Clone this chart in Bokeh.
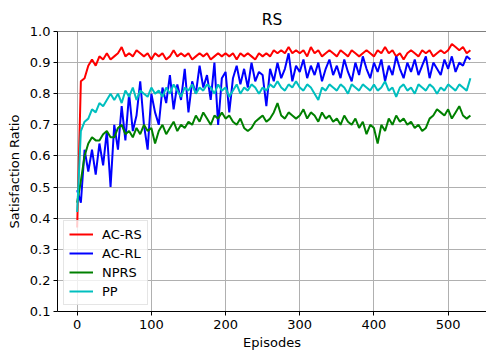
from bokeh.plotting import figure
from bokeh.models import Range1d, FixedTicker, PrintfTickFormatter, Span, Legend, LegendItem
from bokeh.embed import file_html
from bokeh.resources import INLINE

episodes = list(range(0, 531, 5))

ac_rs = [
    0.37, 0.84, 0.85, 0.89, 0.91, 0.89, 0.92, 0.91, 0.93, 0.91,
    0.92, 0.93, 0.95, 0.92, 0.93, 0.92, 0.94, 0.93, 0.92, 0.93,
    0.91, 0.93, 0.92, 0.93, 0.91, 0.92, 0.94, 0.92, 0.93, 0.92,
    0.93, 0.91, 0.92, 0.93, 0.92, 0.93, 0.91, 0.92, 0.93, 0.92,
    0.93, 0.92, 0.93, 0.91, 0.93, 0.92, 0.93, 0.92, 0.91, 0.93,
    0.92, 0.93, 0.92, 0.94, 0.93, 0.94, 0.93, 0.95, 0.93, 0.94,
    0.93, 0.94, 0.92, 0.95, 0.93, 0.94, 0.92, 0.93, 0.94, 0.93,
    0.92, 0.94, 0.93, 0.92, 0.94, 0.93, 0.92, 0.93, 0.94, 0.93,
    0.92, 0.94, 0.93, 0.95, 0.93, 0.94, 0.92, 0.93, 0.91, 0.93,
    0.94, 0.93, 0.92, 0.94, 0.93, 0.94, 0.92, 0.93, 0.94, 0.93,
    0.94, 0.96, 0.95, 0.94, 0.95, 0.93, 0.94,
]

ac_rl = [
    0.49, 0.45, 0.62, 0.55, 0.62, 0.54, 0.64, 0.57, 0.68, 0.50,
    0.70, 0.62, 0.76, 0.65, 0.80, 0.68, 0.73, 0.84, 0.70, 0.62,
    0.80, 0.74, 0.70, 0.82, 0.77, 0.86, 0.75, 0.83, 0.78, 0.88,
    0.74, 0.84, 0.80, 0.89, 0.82, 0.86, 0.78, 0.90, 0.70, 0.85,
    0.87, 0.74, 0.85, 0.89, 0.83, 0.88, 0.82, 0.90, 0.84, 0.87,
    0.86, 0.76, 0.88, 0.84, 0.90, 0.85, 0.88, 0.93, 0.84, 0.89,
    0.87, 0.91, 0.85, 0.89, 0.86, 0.90, 0.84, 0.88, 0.91, 0.86,
    0.89, 0.85, 0.91, 0.87, 0.84, 0.90, 0.86, 0.92, 0.88, 0.85,
    0.90, 0.87, 0.91, 0.84, 0.89, 0.86, 0.92, 0.88, 0.85, 0.90,
    0.87, 0.91, 0.86, 0.89, 0.92, 0.85, 0.90, 0.88, 0.86, 0.91,
    0.88, 0.92, 0.87, 0.90, 0.89, 0.92, 0.91,
]

nprs = [
    0.45, 0.52, 0.60, 0.64, 0.66, 0.65, 0.65, 0.67, 0.68, 0.66,
    0.66, 0.69, 0.70, 0.67, 0.68, 0.66, 0.69, 0.67, 0.70, 0.68,
    0.69, 0.64, 0.68, 0.70, 0.67, 0.69, 0.71, 0.68, 0.70, 0.69,
    0.71, 0.70, 0.73, 0.71, 0.74, 0.72, 0.70, 0.73, 0.72, 0.74,
    0.72, 0.73, 0.71, 0.70, 0.72, 0.69, 0.68, 0.69, 0.71, 0.72,
    0.73, 0.71, 0.72, 0.74, 0.77, 0.73, 0.72, 0.74, 0.73, 0.72,
    0.73, 0.75, 0.72, 0.74, 0.73, 0.71, 0.74, 0.72, 0.73, 0.71,
    0.72, 0.70, 0.73, 0.71, 0.70, 0.72, 0.69, 0.71, 0.67, 0.70,
    0.69, 0.64, 0.70, 0.68, 0.72, 0.70, 0.73, 0.71, 0.72, 0.70,
    0.71, 0.69, 0.70, 0.68, 0.69, 0.72, 0.73, 0.75, 0.74, 0.73,
    0.75, 0.72, 0.74, 0.76, 0.73, 0.72, 0.73,
]

pp = [
    0.42, 0.68, 0.71, 0.72, 0.75, 0.74, 0.77, 0.76, 0.78, 0.80,
    0.78, 0.80, 0.77, 0.81, 0.79, 0.82, 0.78, 0.81, 0.80, 0.79,
    0.82, 0.80, 0.81, 0.79, 0.82, 0.80, 0.83, 0.81, 0.79, 0.82,
    0.81, 0.83, 0.80, 0.82, 0.81, 0.83, 0.82, 0.80, 0.83, 0.81,
    0.82, 0.79, 0.81, 0.83, 0.80, 0.82, 0.81, 0.83, 0.82, 0.80,
    0.82, 0.81, 0.83, 0.82, 0.84, 0.82, 0.81, 0.83, 0.82, 0.84,
    0.82, 0.81, 0.83, 0.82, 0.80, 0.78, 0.82, 0.81, 0.83, 0.82,
    0.81, 0.83, 0.82, 0.80, 0.83, 0.82, 0.81, 0.83, 0.82, 0.81,
    0.83, 0.81, 0.82, 0.84, 0.81, 0.82, 0.79, 0.82, 0.83, 0.81,
    0.82, 0.80, 0.83, 0.82, 0.81, 0.83, 0.82, 0.80, 0.82, 0.81,
    0.83, 0.82, 0.81, 0.83, 0.82, 0.81, 0.85,
]

series_names = ["AC-RS", "AC-RL", "NPRS", "PP"]
series_values = [ac_rs, ac_rl, nprs, pp]
series_colors = ["#ff0000", "#0000ff", "#008000", "#00bfbf"]

x_ticks = [0, 100, 200, 300, 400, 500]
y_ticks = [0.1, 0.2, 0.3, 0.4, 0.5, 0.6, 0.7, 0.8, 0.9, 1.0]

FONT = "DejaVu Sans"
FS = "13px"

p = figure(
    width=486, height=355,
    output_backend="svg", toolbar_location=None,
    x_range=Range1d(-26.5, 551.7), y_range=Range1d(0.1, 1.0),
    min_border_left=57, min_border_right=0, min_border_top=31, min_border_bottom=44,
    title="RS",
)
p.title.align = "center"
p.title.text_font = FONT
p.title.text_font_size = "15.5px"
p.title.text_font_style = "normal"
p.title.text_color = "black"
p.title.standoff = 5

p.outline_line_color = None
p.background_fill_color = "white"
p.border_fill_color = "white"

for ax in (p.xaxis[0], p.yaxis[0]):
    ax.major_label_text_font = FONT
    ax.major_label_text_font_size = FS
    ax.major_label_text_color = "black"
    ax.axis_label_text_font = FONT
    ax.axis_label_text_font_size = FS
    ax.axis_label_text_font_style = "normal"
    ax.axis_label_text_color = "black"
    ax.major_tick_in = 0
    ax.major_tick_out = 4
    ax.minor_tick_line_color = None
    ax.axis_line_color = "black"
    ax.major_tick_line_color = "black"

p.xaxis[0].ticker = FixedTicker(ticks=x_ticks)
p.yaxis[0].ticker = FixedTicker(ticks=y_ticks)
p.yaxis[0].formatter = PrintfTickFormatter(format="%.1f")
p.xaxis[0].axis_label = "Episodes"
p.yaxis[0].axis_label = "Satisfaction Ratio"
p.xaxis[0].major_label_standoff = 4
p.yaxis[0].major_label_standoff = 3
p.xaxis[0].axis_label_standoff = 3
p.yaxis[0].axis_label_standoff = 5

p.xgrid[0].ticker = FixedTicker(ticks=x_ticks)
p.ygrid[0].ticker = FixedTicker(ticks=y_ticks)
for g in (p.xgrid[0], p.ygrid[0]):
    g.grid_line_color = "#b0b0b0"
    g.grid_line_width = 1

top_spine = Span(location=1.0, dimension="width", line_color="black", line_width=1)
p.add_layout(top_spine)

items = []
for name, vals, col in zip(series_names, series_values, series_colors):
    r = p.line(episodes, vals, line_color=col, line_width=2)
    items.append(LegendItem(label=name, renderers=[r]))

legend = Legend(items=items, location="bottom_left")
legend.margin = 6
legend.padding = 5
legend.spacing = 3
legend.glyph_height = 16
legend.glyph_width = 24
legend.label_height = 16
legend.label_standoff = 9
legend.label_text_font = FONT
legend.label_text_font_size = FS
legend.label_text_color = "black"
legend.border_line_color = "#cccccc"
legend.border_line_width = 1
legend.background_fill_color = "white"
legend.background_fill_alpha = 0.8
p.add_layout(legend, "center")

open("out.html", "w").write(file_html(p, INLINE))
